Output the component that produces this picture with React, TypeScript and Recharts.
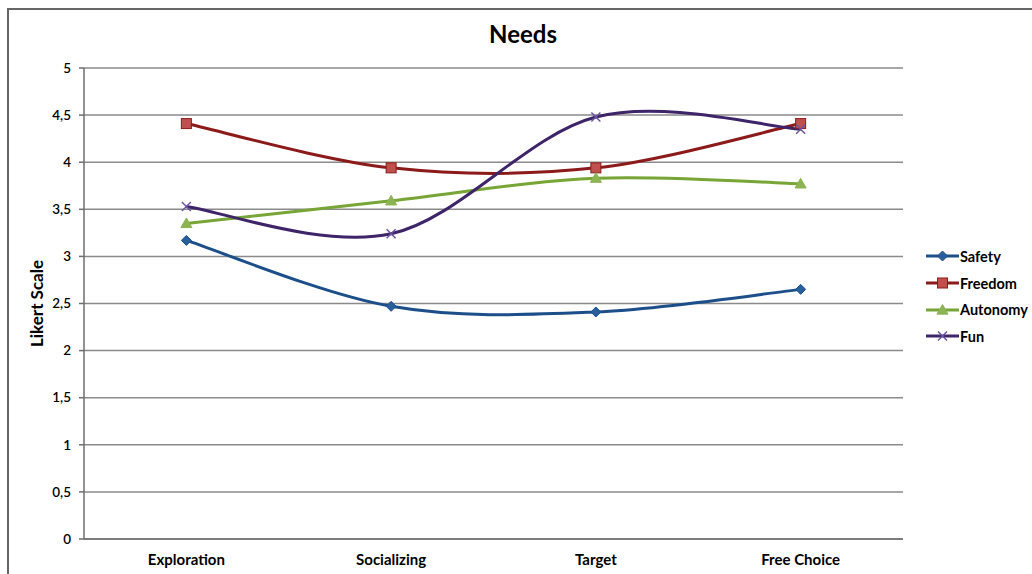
import React from "react";
import { LineChart, Line, XAxis, YAxis, CartesianGrid } from "recharts";

const categories = ["Exploration", "Socializing", "Target", "Free Choice"];
const safety = [3.17, 2.47, 2.41, 2.65];
const freedom = [4.41, 3.94, 3.94, 4.41];
const autonomy = [3.35, 3.59, 3.83, 3.77];
const fun = [3.53, 3.24, 4.48, 4.35];
const yTicks = [0, 0.5, 1, 1.5, 2, 2.5, 3, 3.5, 4, 4.5, 5];

const data = categories.map((c, i) => ({
  name: c,
  Safety: safety[i],
  Freedom: freedom[i],
  Autonomy: autonomy[i],
  Fun: fun[i],
}));

const FONT = "Lato, 'Open Sans', sans-serif";

// Excel-like smoothing (Catmull-Rom with 1/6 control factor)
function excelCurve(context: any) {
  let pts: number[][] = [];
  return {
    areaStart() {},
    areaEnd() {},
    lineStart() {
      pts = [];
    },
    point(x: number, y: number) {
      pts.push([+x, +y]);
    },
    lineEnd() {
      const n = pts.length;
      if (!n) return;
      context.moveTo(pts[0][0], pts[0][1]);
      for (let i = 0; i < n - 1; i++) {
        const p0 = pts[i - 1] || pts[i];
        const p1 = pts[i];
        const p2 = pts[i + 1];
        const p3 = pts[i + 2] || p2;
        const c1x = p1[0] + (p2[0] - p0[0]) / 6;
        const c1y = p1[1] + (p2[1] - p0[1]) / 6;
        const c2x = p2[0] - (p3[0] - p1[0]) / 6;
        const c2y = p2[1] - (p3[1] - p1[1]) / 6;
        context.bezierCurveTo(c1x, c1y, c2x, c2y, p2[0], p2[1]);
      }
    },
  };
}

const series = [
  { key: "Safety", color: "#1C4F8A", fill: "#2A5F9E", marker: "diamond" },
  { key: "Freedom", color: "#8C1A1A", fill: "#C0504D", marker: "square" },
  { key: "Autonomy", color: "#77A536", fill: "#8DB452", marker: "triangle" },
  { key: "Fun", color: "#3E2468", fill: "#6A55A0", marker: "x" },
];

function Marker({ cx, cy, type, color, fill }: any) {
  if (cx == null || cy == null) return null;
  if (type === "diamond") {
    const r = 5;
    return (
      <path
        d={`M${cx},${cy - r} L${cx + r},${cy} L${cx},${cy + r} L${cx - r},${cy} Z`}
        fill={fill}
        stroke={color}
        strokeWidth={1}
      />
    );
  }
  if (type === "square") {
    const r = 5;
    return <rect x={cx - r} y={cy - r} width={2 * r} height={2 * r} fill={fill} stroke={color} strokeWidth={1} />;
  }
  if (type === "triangle") {
    const r = 5.5;
    return (
      <path
        d={`M${cx},${cy - r} L${cx + r},${cy + r * 0.75} L${cx - r},${cy + r * 0.75} Z`}
        fill={fill}
        stroke={fill}
        strokeWidth={1}
      />
    );
  }
  const r = 4.5;
  return (
    <path
      d={`M${cx - r},${cy - r} L${cx + r},${cy + r} M${cx - r},${cy + r} L${cx + r},${cy - r}`}
      stroke={fill}
      strokeWidth={1.5}
      fill="none"
    />
  );
}

function LegendBox() {
  return (
    <div
      style={{
        position: "absolute",
        left: 926,
        top: 243,
        fontFamily: FONT,
        fontWeight: 700,
        fontSize: 14.5,
        color: "#000",
      }}
    >
      {series.map((s) => (
        <div key={s.key} style={{ display: "flex", alignItems: "center", height: 26.7 }}>
          <svg width={33} height={14} style={{ marginRight: 1 }}>
            <line x1={0} y1={7} x2={33} y2={7} stroke={s.color} strokeWidth={3} />
            <Marker cx={16.5} cy={7} type={s.marker} color={s.color} fill={s.fill} />
          </svg>
          <span>{s.key}</span>
        </div>
      ))}
    </div>
  );
}

export default function App() {
  return (
    <div style={{ position: "absolute", left: 0, top: 0, width: 1032, height: 574, background: "#fff", overflow: "hidden" }}>
      <div
        style={{
          position: "absolute",
          left: 7,
          top: 8,
          width: 1100,
          height: 700,
          borderTop: "2px solid #666",
          borderLeft: "2px solid #666",
        }}
      />
      <div
        style={{
          position: "absolute",
          left: 0,
          top: 19,
          width: 1046,
          textAlign: "center",
          fontFamily: FONT,
          fontWeight: 700,
          fontSize: 24,
          color: "#000",
        }}
      >
        Needs
      </div>
      <div style={{ position: "absolute", left: 0, top: 0 }}>
        <LineChart width={1032} height={574} data={data} margin={{ top: 68, right: 129, bottom: 0, left: 0 }}>
          <CartesianGrid vertical={false} stroke="#8a8a8a" strokeWidth={1.5} />
          <XAxis
            dataKey="name"
            scale="band"
            tickLine={false}
            axisLine={{ stroke: "#6e6e6e", strokeWidth: 1.5 }}
            tickSize={0}
            tickMargin={15}
            tick={{ fontFamily: FONT, fontWeight: 700, fontSize: 15, fill: "#000" }}
            height={35}
            interval={0}
          />
          <YAxis
            domain={[0, 5]}
            ticks={yTicks}
            tickFormatter={(v: number) => String(v).replace(".", ",")}
            width={84}
            tickSize={5}
            tickMargin={8}
            tickLine={{ stroke: "#6e6e6e", strokeWidth: 1.5 }}
            axisLine={{ stroke: "#6e6e6e", strokeWidth: 1.5 }}
            tick={{ fontFamily: FONT, fontWeight: 600, fontSize: 13.5, fill: "#000" }}
            label={{
              value: "Likert Scale",
              angle: -90,
              position: "insideLeft",
              offset: 37,
              style: { textAnchor: "middle", fontFamily: FONT, fontWeight: 700, fontSize: 17, fill: "#000" },
            }}
          />
          {series.map((s) => (
            <Line
              key={s.key}
              dataKey={s.key}
              type={excelCurve as any}
              stroke={s.color}
              strokeWidth={3}
              isAnimationActive={false}
              dot={(p: any) => (
                <Marker key={`${s.key}-${p.index}`} cx={p.cx} cy={p.cy} type={s.marker} color={s.color} fill={s.fill} />
              )}
              activeDot={false}
            />
          ))}
        </LineChart>
      </div>
      <LegendBox />
    </div>
  );
}
